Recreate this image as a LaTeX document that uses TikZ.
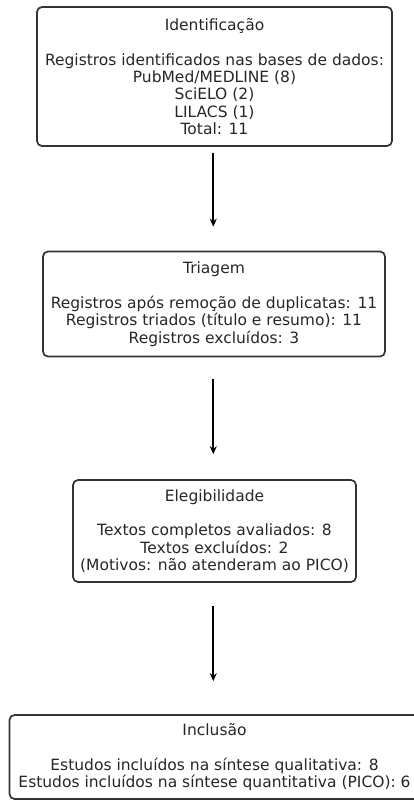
\documentclass[tikz,border=0pt]{standalone}
\usepackage{fontspec}
\setmainfont{DejaVu Sans}
\usepackage{tikz}
\usetikzlibrary{arrows.meta,positioning}

\begin{document}
\begin{tikzpicture}[x=1pt, y=-1pt,
    stage/.style={rectangle, rounded corners=5pt, draw=black!80, line width=1.7pt, align=center, text=black!85, font=\fontsize{15.5}{17.4}\selectfont, inner sep=0pt},
    arrow/.style={-{Stealth[length=8pt,width=7pt]}, line width=1.7pt, black},
]
\useasboundingbox (0,0) rectangle (413,801);

% Stages
\node[stage, minimum width=355pt, minimum height=139pt] (ident) at (214.5,76.5)
  {Identificação\\[17.4pt]Registros identificados nas bases de dados:\\PubMed/MEDLINE (8)\\SciELO (2)\\LILACS (1)\\Total: 11};
\node[stage, minimum width=342pt, minimum height=105pt] (triag) at (214,304)
  {Triagem\\[17.4pt]Registros após remoção de duplicatas: 11\\Registros triados (título e resumo): 11\\Registros excluídos: 3};
\node[stage, minimum width=283pt, minimum height=102pt] (eleg) at (214.5,531)
  {Elegibilidade\\[17.4pt]Textos completos avaliados: 8\\Textos excluídos: 2\\(Motivos: não atenderam ao PICO)};
\node[stage, minimum width=410pt, minimum height=84pt] (incl) at (214.5,757)
  {Inclusão\\[17.4pt]Estudos incluídos na síntese qualitativa: 8\\Estudos incluídos na síntese quantitativa (PICO): 6};

% Arrows
\draw[arrow, shorten <=6pt, shorten >=24pt] (ident.south -| 213.3,0) -- (triag.north -| 213.3,0);
\draw[arrow, shorten <=22pt, shorten >=25pt] (triag.south -| 213.3,0) -- (eleg.north -| 213.3,0);
\draw[arrow, shorten <=23pt, shorten >=33pt] (eleg.south -| 213.3,0) -- (incl.north -| 213.3,0);

\end{tikzpicture}
\end{document}
